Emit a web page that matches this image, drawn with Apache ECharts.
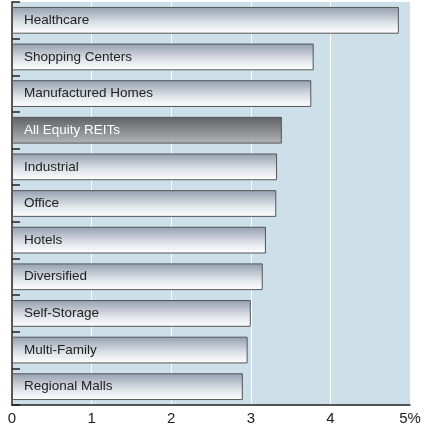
<!DOCTYPE html><html><head><meta charset="utf-8"><script src="https://cdn.jsdelivr.net/npm/echarts@6/dist/echarts.min.js"></script>
<style>html,body{margin:0;padding:0;background:#fff}#c{width:432px;height:426px}</style></head><body><div id="c"></div><script>
const categories=["Healthcare","Shopping Centers","Manufactured Homes","All Equity REITs","Industrial","Office","Hotels","Diversified","Self-Storage","Multi-Family","Regional Malls"];
const values=[4.86,3.79,3.76,3.39,3.33,3.32,3.19,3.15,3.0,2.96,2.90];
const tickLabels=["0","1","2","3","4","5%"];
const normal={type:'linear',x:0,y:0,x2:0,y2:1,colorStops:[{offset:0,color:'#939eae'},{offset:0.6,color:'#dfe3e9'},{offset:1,color:'#ffffff'}]};
const dark={type:'linear',x:0,y:0,x2:0,y2:1,colorStops:[{offset:0,color:'#5f6166'},{offset:1,color:'#b4b5b8'}]};
const chart=echarts.init(document.getElementById('c'));
chart.setOption({animation:false,
grid:{left:12,right:22,top:2,bottom:21,backgroundColor:'#cde0ea',show:true,borderWidth:0},
xAxis:{type:'value',min:0,max:5,interval:1,axisLine:{show:true,lineStyle:{color:'#222',width:1.5}},axisTick:{show:false},
 splitLine:{lineStyle:{color:'#ffffff',width:1}},
 axisLabel:{color:'#222',fontSize:15,fontFamily:'Liberation Sans',margin:6,formatter:(v,i)=>tickLabels[i]}},
yAxis:{type:'category',data:categories,inverse:true,axisLine:{show:true,lineStyle:{color:'#222',width:1.5}},
 axisTick:{show:true,inside:true,length:8,lineStyle:{color:'#222',width:1.5}},axisLabel:{show:false}},
series:[{type:'bar',
 data:values.map((v,i)=>({value:v,itemStyle:{color:categories[i]==='All Equity REITs'?dark:normal},label:categories[i]==='All Equity REITs'?{color:'#fff'}:{}})),
 barCategoryGap:'27%',itemStyle:{borderColor:'#555',borderWidth:1},
 label:{show:true,position:'insideLeft',distance:12,formatter:p=>p.name,fontSize:13.5,fontFamily:'Liberation Sans',color:'#222'}}]
});
</script></body></html>
